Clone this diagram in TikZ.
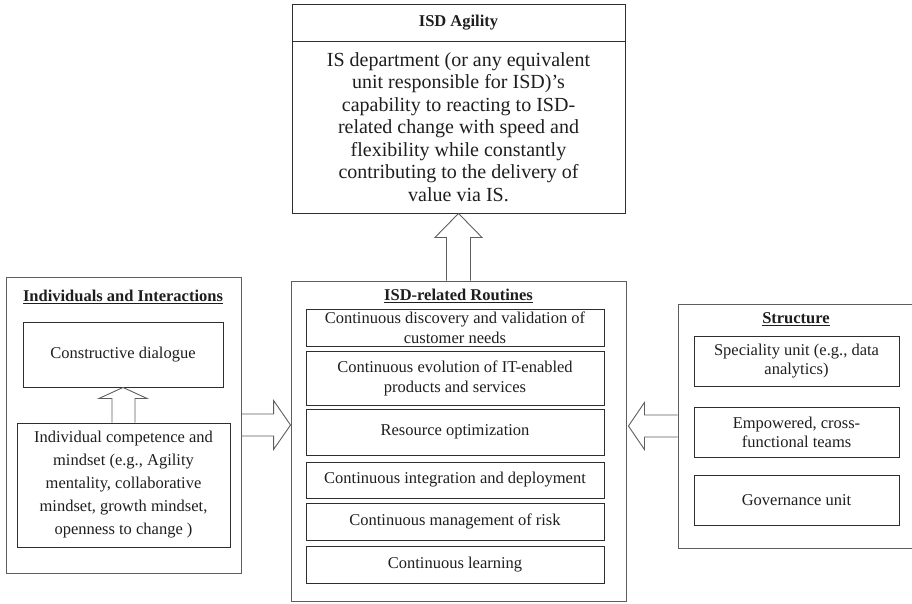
\documentclass[tikz,border=0pt]{standalone}
\usepackage{fontspec}
\setmainfont{Liberation Serif}
\usepackage{tikz}
\usetikzlibrary{calc}
\definecolor{ink}{HTML}{1E1E1E}
\definecolor{edge}{HTML}{2E2E2E}
\definecolor{outer}{HTML}{5E5E5E}

\begin{document}
\begin{tikzpicture}[x=1pt,y=-1pt,line width=0.9pt,
  every node/.style={font=\fontsize{16.5}{20}\selectfont,text=ink},
  box/.style={draw=edge,rectangle,inner sep=0pt,align=center},
  frame/.style={draw=outer,rectangle,inner sep=0pt},
  hd/.style={font=\fontsize{16.5}{20}\selectfont\bfseries},
  blk/.style={draw=outer}]
  \useasboundingbox (0,0) rectangle (912,603);
  % ISD agility (top)
  \node[box,hd,minimum width=333pt,minimum height=37pt] (agilhd) at (458.5,22.5) {ISD Agility};
  \node[box,minimum width=333pt,minimum height=172pt,font=\fontsize{20}{22.5}\selectfont] (agil) at (458.5,127)
    {IS department (or any equivalent\\unit responsible for ISD)'s\\capability to reacting to ISD-\\related change with speed and\\flexibility while constantly\\contributing to the delivery of\\value via IS.};
  % routines (middle)
  \node[frame,minimum width=335pt,minimum height=320pt] (rout) at (458.5,441) {};
  \node[hd] (routhd) at (458.5,296) {\underline{ISD-related Routines}};
  \node[box,minimum width=298pt,minimum height=37pt] (r1) at (455,327.5) {Continuous discovery and validation of\\customer needs};
  \node[box,minimum width=298pt,minimum height=54pt] (r2) at (455,378) {Continuous evolution of IT-enabled\\products and services};
  \node[box,minimum width=298pt,minimum height=46pt] (r3) at (455,432) {Resource optimization};
  \node[box,minimum width=298pt,minimum height=36pt] (r4) at (455,480) {Continuous integration and deployment};
  \node[box,minimum width=298pt,minimum height=37pt] (r5) at (455,521.5) {Continuous management of risk};
  \node[box,minimum width=298pt,minimum height=37pt] (r6) at (455,564.5) {Continuous learning};
  % individuals (left)
  \node[frame,minimum width=235pt,minimum height=296pt] (ind) at (123.5,425) {};
  \node[hd] (indhd) at (123,297) {\underline{Individuals and Interactions}};
  \node[box,minimum width=200pt,minimum height=65pt] (dial) at (123,354.5) {Constructive dialogue};
  \node[box,minimum width=213pt,minimum height=124pt,font=\fontsize{16.5}{23}\selectfont] (comp) at (123.5,485)
    {Individual competence and\\mindset (e.g., Agility\\mentality, collaborative\\mindset, growth mindset,\\openness to change )};
  % structure (right, runs past the page edge)
  \node[frame,minimum width=236pt,minimum height=244pt] (struct) at (796,426) {};
  \node[hd] (structhd) at (796,319) {\underline{Structure}};
  \node[box,minimum width=205pt,minimum height=50pt,font=\fontsize{16.5}{19}\selectfont] (s1) at (796.5,361) {Speciality unit (e.g., data\\analytics)};
  \node[box,minimum width=205pt,minimum height=50pt,font=\fontsize{16.5}{19}\selectfont] (s2) at (796.5,432) {Empowered, cross-\\functional teams};
  \node[box,minimum width=205pt,minimum height=50pt] (s3) at (796.5,500) {Governance unit};
  % block arrows
  \draw[blk] ($(rout.north)+(-12,0)$) |- ($(agil.south)+(-23.5,24)$) -- (agil.south) -- ($(agil.south)+(23.5,24)$) -| ($(rout.north)+(12,0)$);
  \draw[blk] ($(comp.north)+(-11.5,0)$) |- ($(dial.south)+(-24,11)$) -- (dial.south) -- ($(dial.south)+(24,11)$) -| ($(comp.north)+(11.5,0)$);
  \coordinate (tipL) at (rout.west |- ind.east);
  \draw[blk] ($(ind.east)+(0,-11)$) -- ($(tipL)+(-17,-11)$) -- ($(tipL)+(-17,-24.5)$) -- (tipL) -- ($(tipL)+(-17,24.5)$) -- ($(tipL)+(-17,11)$) -- ($(ind.east)+(0,11)$);
  \coordinate (tipR) at ($(rout.east |- struct.west)+(2,0)$);
  \draw[blk] ($(struct.west)+(0,-11)$) -- ($(tipR)+(16,-11)$) -- ($(tipR)+(16,-23.5)$) -- (tipR) -- ($(tipR)+(16,23.5)$) -- ($(tipR)+(16,11)$) -- ($(struct.west)+(0,11)$);
\end{tikzpicture}
\end{document}
